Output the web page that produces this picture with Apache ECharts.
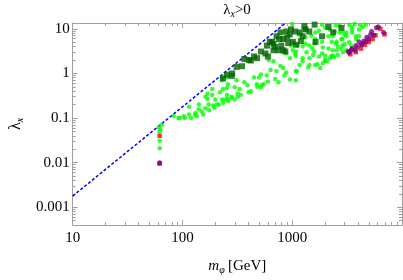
<!DOCTYPE html>
<html>
<head>
<meta charset="utf-8">
<script src="https://cdn.jsdelivr.net/npm/echarts@6/dist/echarts.min.js"></script>
<style>
html,body{margin:0;padding:0;background:#fff;}
#c{width:403px;height:280px;}
</style>
</head>
<body>
<div id="c"></div>
<script>
// ---- data (m_phi in GeV, lambda_x) ----
var xTicks = [10, 100, 1000];
var xTickLabels = ['10', '100', '1000'];
var yTicks = [0.001, 0.01, 0.1, 1, 10];
var yTickLabels = ['0.001', '0.01', '0.1', '1', '10'];
var xMinor = [20,30,40,50,60,70,80,90,200,300,400,500,600,700,800,900,2000,3000,4000,5000,6000,7000,8000,9000];
var yMinor = [0.0005,0.0006,0.0007,0.0008,0.0009,0.002,0.003,0.004,0.005,0.006,0.007,0.008,0.009,
  0.02,0.03,0.04,0.05,0.06,0.07,0.08,0.09,0.2,0.3,0.4,0.5,0.6,0.7,0.8,0.9,2,3,4,5,6,7,8,9];

var boundaryLine = [[10, 0.00178], [880, 13.8]];

var greenPoints = [
  [61,0.062],[62,0.05],[62,0.031],[62,0.021],[65,0.071],[63,0.055],
  [83,0.111],[92,0.1],[103,0.11],[115,0.12],[132,0.129],[141,0.157],[162,0.165],[173,0.2],[191,0.19],
  [169,0.27],[187,0.33],[199,0.26],[220,0.38],[234,0.45],[244,0.26],[259,0.27],[281,0.3],[299,0.26],
  [254,0.33],[229,0.7],[254,0.81],[259,0.57],[311,0.7],[331,0.45],[207,0.2],
  [391,0.54],[477,0.57],[518,0.49],[366,0.63],[318,0.35],[229,0.26],[162,0.3],[141,0.2],[115,0.18],
  [254,0.47],[299,0.49],[187,0.45],[229,0.81],[169,0.35],[518,0.94],[585,0.9],
  [675,1.88],[718,1.14],[780,1.47],[881,2.8],[955,2.2],[1080,2.5],[1244,1.88],[1435,1.54],[1590,3.1],
  [1760,2.4],[1800,1.33],[2070,1.88],[2140,3.6],[2340,2.5],[2540,5.1],[2870,5.9],[3110,6.8],[3520,8.3],
  [4060,9.7],[4680,12.4],[3310,12.4],[2700,8.3],[2340,6.8],[2290,5.1],[1870,5.1],[1620,5.9],[1435,4.2],
  [1244,4.0],[1014,3.3],[1870,12.4],[2440,8.7],[2870,8.7],[3810,5.9],[2810,3.6],[3450,4.2],[1990,2.5],
  [2290,2.4],[2340,3.3],[1620,8.3],[1320,6.5],[2140,6.8],[3520,11],[4060,6.8],
  [975,4.2],[1060,2.8],[1125,4.2],[610,2.0],[635,1.2],[828,1.33],[881,1.05],[449,0.81],[497,0.81],
  [551,0.57],[750,0.63],[955,0.73],[1080,0.7],
  [1080,3.1],[1320,4.6],[1244,2.2],[1435,2.2],[1525,3.6],[1620,1.54],[1870,2.8],[1990,2.0],[2290,2.5],
  [2540,3.3],[2810,5.9],[2870,4.2],[3110,8.3],[3520,9.7],[3810,6.8],[4400,11],[1080,1.14],[1170,1.54],
  [95,0.1],[105,0.1],[120,0.1],[130,0.12],[135,0.11],[150,0.14],[155,0.12],[175,0.15],[195,0.17],
  [215,0.2],[235,0.22],[260,0.24],[280,0.28],[320,0.3],[340,0.33],[400,0.38],[420,0.4],[480,0.5],
  [530,0.55],[600,0.65],[700,0.75],[850,0.9],[1100,1.1],[1400,1.35],[1700,1.6],[2000,1.9],[2400,2.3],
  [2900,3.0],[3100,3.3],[2600,2.6],[2200,2.2],[1900,1.7],[3000,4.5],[2600,4.0],[3300,5.0],[4200,12],
  [3700,12.8],[2500,12],[2200,9.5],[1300,9.5],[1000,12.8],[1150,7.5],[1500,7.0],[1750,9.0],[2000,10.5],
  [2700,11.5],[3000,7.5],[1600,4.6],[1900,3.8],[2500,4.6],[1350,3.0],[1550,2.6]
];

var darkPoints = [
  [234,0.77],[254,0.94],[284,1.0],[311,1.4],[349,1.45],[366,2.1],[404,2.0],[420,1.95],[449,2.4],[478,2.2],
  [519,3.1],[588,4.2],[625,5.1],[655,5.1],[675,4.6],[675,3.3],[720,6.8],[750,3.3],[780,8.3],[795,4.2],
  [828,5.9],[828,3.3],[865,3.1],[880,8.7],[920,4.8],[950,7.5],[975,9.7],[1014,5.1],[1060,8.7],[1080,4.4],
  [1170,8.3],[1244,6.8],[1320,9.7],[1430,8.7],[1600,12.4],[1630,5.1],[1870,6.8],[2140,11],[2360,8.3],
  [2810,10.5],[570,2.8],[600,2.4],[700,3.9],[760,5.9],[900,6.4],[1200,5.3],[1290,11.5],[281,0.88]
];

var purplePoints = [
  [62,0.01],
  [3240,3.1],[3310,2.95],[3520,3.6],[3710,3.3],[3810,4.2],[4060,5.1],[4320,4.6],[4490,5.3],[4680,5.1],
  [4780,6.5],[4990,5.9],[5180,7.5],[5290,8.7],[5520,7.2],[5850,10.6],[6100,11],[6800,8.3],[3450,3.4],
  [3890,3.8],[4230,4.4]
];

var redPoints = [
  [62,0.04],[62,0.0095],
  [3380,2.7],[3800,3.0],[4230,3.6],[4580,4.4],[4990,5.1],[5400,5.9],[5730,7.2],[6350,10],[6940,7.5]
];

// ---- chart ----
var FONT = 'Liberation Serif';
var FRAME = '#a0a0a0';
function fmtX(v){ var i = xTicks.indexOf(v); return i >= 0 ? xTickLabels[i] : ''; }
function fmtY(v){ for (var i=0;i<yTicks.length;i++){ if (Math.abs(v/yTicks[i]-1)<1e-6) return yTickLabels[i]; } return ''; }

function xAx(pos, major, labels){
  return {
    type:'log', logBase:10, min:10, max:10000, position:pos,
    axisLine:{show:major, lineStyle:{color:FRAME, width:1}},
    axisTick:{show:true, inside:true, length: major?5:3, lineStyle:{color:FRAME}, customValues: major?xTicks:xMinor},
    axisLabel:{show:labels, customValues:xTicks, formatter:fmtX, color:'#000', fontFamily:FONT, fontSize:15, margin:6},
    splitLine:{show:false}, minorTick:{show:false}
  };
}
function yAx(pos, major, labels){
  return {
    type:'log', logBase:10, min:0.0004, max:13.5, position:pos,
    axisLine:{show:major, lineStyle:{color:FRAME, width:1}},
    axisTick:{show:true, inside:true, length: major?5:3, lineStyle:{color:FRAME}, customValues: major?yTicks:yMinor},
    axisLabel:{show:labels, customValues:yTicks, formatter:fmtY, color:'#000', fontFamily:FONT, fontSize:15, margin:3},
    splitLine:{show:false}, minorTick:{show:false}
  };
}

var xAxes = [xAx('bottom',true,true), xAx('bottom',false,false), xAx('top',true,false), xAx('top',false,false)];
xAxes[0].name = '{i|m}{s|φ} {n|[GeV]}';
xAxes[0].nameLocation = 'middle';
xAxes[0].nameGap = 32;
xAxes[0].nameTextStyle = {rich:{
  i:{fontFamily:FONT, fontStyle:'italic', fontSize:15, color:'#000'},
  s:{fontFamily:FONT, fontStyle:'italic', fontSize:10, color:'#000', verticalAlign:'bottom', padding:[8,0,0,0]},
  n:{fontFamily:FONT, fontSize:15, color:'#000'}
}};
var yAxes = [yAx('left',true,true), yAx('left',false,false), yAx('right',true,false), yAx('right',false,false)];
yAxes[0].name = '{l|λ}{s|x}';
yAxes[0].nameLocation = 'middle';
yAxes[0].nameGap = 44;
yAxes[0].nameRotate = 90;
yAxes[0].nameTextStyle = {rich:{
  l:{fontFamily:FONT, fontSize:16, color:'#000'},
  s:{fontFamily:FONT, fontStyle:'italic', fontSize:10, color:'#000', verticalAlign:'bottom', padding:[8,0,0,0]}
}};

var chart = echarts.init(document.getElementById('c'), null, {renderer:'canvas'});
chart.setOption({
  animation:false,
  backgroundColor:'#fff',
  title:{
    text:'{l|λ}{s|x}{l|>0}', left:232, top:0, textAlign:'center', padding:[2,5,2,5],
    textStyle:{fontWeight:'normal', rich:{
      l:{fontFamily:FONT, fontSize:15, fontWeight:'normal', color:'#000'},
      s:{fontFamily:FONT, fontStyle:'italic', fontWeight:'normal', fontSize:10, color:'#000', verticalAlign:'bottom', padding:[7,0,0,0]}
    }}
  },
  grid:{left:63, right:1, top:23, bottom:47, containLabel:false},
  xAxis:xAxes,
  yAxis:yAxes,
  series:[
    {type:'line', data:boundaryLine, symbol:'none', lineStyle:{color:'#0000ff', width:1.5, type:[3,2]}, z:3},
    {type:'scatter', data:greenPoints, symbol:'circle', symbolSize:4.5, itemStyle:{color:'#00ff00'}, z:4},
    {type:'scatter', data:darkPoints, symbol:'rect', symbolSize:6, itemStyle:{color:'#006400'}, z:5},
    {type:'scatter', data:redPoints, symbol:'rect', symbolSize:4.5, itemStyle:{color:'#ff0000'}, z:6},
    {type:'scatter', data:purplePoints, symbol:'circle', symbolSize:5, itemStyle:{color:'#800080'}, z:7}
  ]
});
</script>
</body>
</html>
